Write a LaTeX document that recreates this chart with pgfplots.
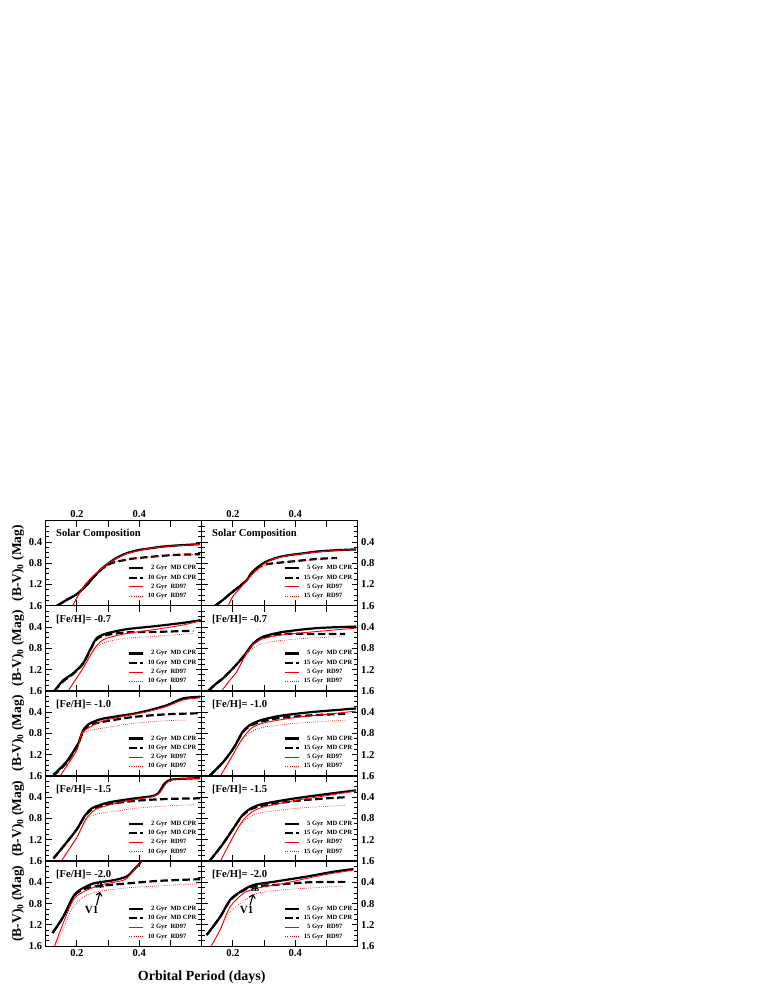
\documentclass[border=0pt]{standalone}
\usepackage{fontspec}
\setmainfont{Liberation Serif}
\usepackage{pgfplots}
\pgfplotsset{compat=1.18}
\usetikzlibrary{arrows.meta}

% line styles of the four model curves
\tikzset{
  bs/.style={black, line width=2.2pt, smooth, tension=0.45},
  bd/.style={black, line width=2.2pt, dash pattern=on 7.5pt off 3.5pt, smooth, tension=0.45},
  rs/.style={red, line width=0.9pt, smooth, tension=0.45},
  rd/.style={red, line width=0.7pt, dash pattern=on 0.7pt off 1.4pt, smooth, tension=0.45},
}

\pgfplotsset{
  panel/.style={
    scale only axis, width=156pt, height=85.1pt,
    xmin=0.1, xmax=0.6, ymin=0, ymax=1.6, y dir=reverse,
    axis line style={line width=1.3pt},
    xtick pos=both, ytick pos=both, tick align=inside,
    xtick={0.2,0.3,0.4,0.5}, xticklabels={},
    ytick={0.4,0.8,1.2,1.6}, yticklabels={0.4,0.8,1.2,1.6},
    minor ytick={0.1,0.2,0.3,0.5,0.6,0.7,0.9,1.0,1.1,1.3,1.4,1.5},
    major tick length=6pt, minor tick length=3.5pt,
    every tick/.style={black, line width=0.9pt},
    ticklabel style={font=\fontsize{10.6}{10.6}\selectfont\bfseries},
    /pgf/number format/assume math mode=true,
    legend style={draw=none, fill=none, at={(0.528,0.475)}, anchor=north west,
      inner sep=0pt, font=\fontsize{6.5}{6.5}\selectfont\bfseries,
      row sep=3.8pt, column sep=3.5pt,
      nodes={inner sep=0pt, text height=4.3pt, text depth=1.2pt}},
    legend cell align=left,
    legend image code/.code={\draw[#1] (0pt,0pt) -- (14pt,0pt);},
  },
  lpanel/.style={panel, yticklabel pos=left,
    ylabel={(B-V)\textsubscript{0} (Mag)},
    ylabel style={at={(axis description cs:-0.178,0.5)}, anchor=center,
      font=\fontsize{13.5}{13.5}\selectfont\bfseries},
    legend entries={{\phantom{1}2 Gyr\ \ MD CPR},{10 Gyr\ \ MD CPR},{\phantom{1}2 Gyr\ \ RD97},{10 Gyr\ \ RD97}},
  },
  rpanel/.style={panel, yticklabel pos=right,
    legend entries={{\phantom{1}5 Gyr\ \ MD CPR},{15 Gyr\ \ MD CPR},{\phantom{1}5 Gyr\ \ RD97},{15 Gyr\ \ RD97}},
  },
  toprow/.style={xticklabel pos=right, xticklabels={0.2,,0.4,}},
  botrow/.style={xticklabel pos=left, xticklabels={0.2,,0.4,}},
}
\newcommand{\ptitle}[1]{\node[anchor=west, inner sep=0pt, font=\fontsize{10.6}{10.6}\selectfont\bfseries] at (axis cs:0.133,0.25) {#1};}

\begin{document}
\begin{tikzpicture}
\path[use as bounding box] (0,0) rectangle (775pt,1003pt);

% ---------------- row 1: solar
\begin{axis}[lpanel, toprow, at={(45.7pt,482.3pt)}, anchor=north west]
\addplot[bs] coordinates {(0.136,1.60) (0.17,1.48) (0.20,1.38) (0.23,1.22) (0.255,1.05) (0.28,0.90) (0.306,0.78) (0.33,0.69) (0.36,0.61) (0.40,0.55) (0.434,0.52) (0.47,0.49) (0.51,0.47) (0.55,0.455) (0.595,0.44)};
\addplot[bd] coordinates {(0.136,1.60) (0.17,1.48) (0.20,1.38) (0.23,1.22) (0.255,1.05) (0.28,0.91) (0.306,0.81) (0.33,0.77) (0.37,0.72) (0.434,0.68) (0.51,0.645) (0.595,0.63)};
\addplot[rs] coordinates {(0.186,1.60) (0.205,1.40) (0.226,1.20) (0.25,1.05) (0.275,0.92) (0.30,0.80) (0.33,0.70) (0.36,0.62) (0.40,0.56) (0.434,0.52) (0.51,0.475) (0.595,0.445)};
\addplot[rd] coordinates {(0.186,1.60) (0.205,1.40) (0.226,1.20) (0.25,1.05) (0.275,0.93) (0.30,0.82) (0.33,0.77) (0.37,0.72) (0.434,0.68) (0.51,0.65) (0.58,0.635)};
\ptitle{Solar Composition}
\end{axis}
\begin{axis}[rpanel, toprow, at={(201.7pt,482.3pt)}, anchor=north west]
\addplot[bs] coordinates {(0.143,1.60) (0.17,1.48) (0.19,1.38) (0.22,1.24) (0.244,1.12) (0.26,0.98) (0.276,0.89) (0.30,0.79) (0.319,0.74) (0.35,0.68) (0.383,0.645) (0.43,0.61) (0.469,0.58) (0.53,0.555) (0.595,0.54)};
\addplot[bd] coordinates {(0.143,1.60) (0.17,1.48) (0.19,1.38) (0.22,1.24) (0.244,1.12) (0.26,0.99) (0.276,0.90) (0.30,0.83) (0.33,0.80) (0.383,0.77) (0.469,0.72) (0.533,0.70)};
\addplot[rs] coordinates {(0.185,1.60) (0.20,1.42) (0.223,1.27) (0.25,1.08) (0.276,0.93) (0.30,0.81) (0.33,0.72) (0.383,0.65) (0.469,0.59) (0.53,0.56) (0.595,0.545)};
\addplot[rd] coordinates {(0.185,1.60) (0.20,1.42) (0.223,1.27) (0.25,1.08) (0.276,0.94) (0.30,0.85) (0.33,0.81) (0.383,0.77) (0.469,0.73) (0.533,0.71)};
\ptitle{Solar Composition}
\end{axis}

% ---------------- row 2: [Fe/H] = -0.7
\begin{axis}[lpanel, at={(45.7pt,397.2pt)}, anchor=north west]
\addplot[bs] coordinates {(0.128,1.60) (0.156,1.40) (0.188,1.27) (0.22,1.08) (0.242,0.83) (0.263,0.61) (0.295,0.52) (0.36,0.44) (0.456,0.38) (0.541,0.32) (0.597,0.27)};
\addplot[bd] coordinates {(0.128,1.60) (0.156,1.42) (0.188,1.28) (0.22,1.09) (0.242,0.84) (0.263,0.63) (0.295,0.55) (0.36,0.50) (0.456,0.49) (0.573,0.47)};
\addplot[rs] coordinates {(0.172,1.60) (0.20,1.35) (0.22,1.17) (0.253,0.83) (0.275,0.68) (0.295,0.61) (0.36,0.52) (0.456,0.44) (0.541,0.36) (0.597,0.28)};
\addplot[rd] coordinates {(0.172,1.60) (0.20,1.35) (0.22,1.17) (0.253,0.86) (0.275,0.73) (0.30,0.67) (0.36,0.61) (0.456,0.57) (0.573,0.52)};
\ptitle{[Fe/H]= -0.7}
\end{axis}
\begin{axis}[rpanel, at={(201.7pt,397.2pt)}, anchor=north west]
\addplot[bs] coordinates {(0.121,1.60) (0.145,1.47) (0.169,1.36) (0.201,1.17) (0.233,0.96) (0.265,0.71) (0.297,0.58) (0.362,0.49) (0.469,0.42) (0.595,0.39)};
\addplot[bd] coordinates {(0.121,1.60) (0.145,1.47) (0.169,1.36) (0.201,1.17) (0.233,0.96) (0.265,0.72) (0.297,0.60) (0.362,0.53) (0.469,0.53) (0.56,0.53)};
\addplot[rs] coordinates {(0.164,1.60) (0.19,1.40) (0.212,1.24) (0.244,0.89) (0.276,0.67) (0.33,0.57) (0.437,0.50) (0.595,0.42)};
\addplot[rd] coordinates {(0.164,1.60) (0.19,1.40) (0.212,1.25) (0.244,0.92) (0.276,0.75) (0.33,0.67) (0.437,0.61) (0.554,0.58)};
\ptitle{[Fe/H]= -0.7}
\end{axis}

% ---------------- row 3: [Fe/H] = -1.0
\begin{axis}[lpanel, at={(45.7pt,312.1pt)}, anchor=north west]
\addplot[bs] coordinates {(0.124,1.58) (0.167,1.33) (0.204,0.99) (0.22,0.74) (0.242,0.61) (0.285,0.52) (0.381,0.43) (0.434,0.36) (0.488,0.27) (0.541,0.14) (0.595,0.11)};
\addplot[bd] coordinates {(0.124,1.60) (0.167,1.35) (0.204,1.00) (0.22,0.76) (0.242,0.64) (0.285,0.58) (0.381,0.49) (0.488,0.44) (0.595,0.42)};
\addplot[rs] coordinates {(0.146,1.60) (0.20,1.11) (0.215,0.80) (0.242,0.68) (0.285,0.56) (0.381,0.44) (0.434,0.38) (0.488,0.29) (0.541,0.17) (0.595,0.13)};
\addplot[rd] coordinates {(0.146,1.60) (0.20,1.11) (0.215,0.82) (0.242,0.74) (0.285,0.70) (0.381,0.61) (0.488,0.56) (0.55,0.55)};
\ptitle{[Fe/H]= -1.0}
\end{axis}
\begin{axis}[rpanel, at={(201.7pt,312.1pt)}, anchor=north west]
\addplot[bs] coordinates {(0.125,1.60) (0.17,1.33) (0.205,1.05) (0.23,0.78) (0.255,0.64) (0.29,0.55) (0.35,0.47) (0.45,0.40) (0.595,0.33)};
\addplot[bd] coordinates {(0.125,1.60) (0.17,1.33) (0.205,1.05) (0.23,0.79) (0.255,0.66) (0.29,0.58) (0.35,0.51) (0.45,0.46) (0.56,0.43)};
\addplot[rs] coordinates {(0.16,1.60) (0.20,1.20) (0.23,0.90) (0.26,0.70) (0.30,0.60) (0.40,0.50) (0.50,0.44) (0.595,0.38)};
\addplot[rd] coordinates {(0.16,1.60) (0.20,1.20) (0.23,0.92) (0.26,0.76) (0.30,0.68) (0.40,0.61) (0.50,0.57) (0.56,0.55)};
\ptitle{[Fe/H]= -1.0}
\end{axis}

% ---------------- row 4: [Fe/H] = -1.5
\begin{axis}[lpanel, at={(45.7pt,227.0pt)}, anchor=north west]
\addplot[bs] coordinates {(0.125,1.55) (0.16,1.30) (0.20,1.00) (0.225,0.75) (0.25,0.60) (0.30,0.50) (0.35,0.45) (0.40,0.41) (0.44,0.38) (0.46,0.33) (0.48,0.15) (0.50,0.07) (0.55,0.05) (0.595,0.04)};
\addplot[bd] coordinates {(0.125,1.55) (0.16,1.30) (0.20,1.00) (0.225,0.76) (0.25,0.62) (0.30,0.53) (0.40,0.46) (0.50,0.43) (0.595,0.42)};
\addplot[rs] coordinates {(0.15,1.60) (0.20,1.15) (0.23,0.80) (0.26,0.63) (0.30,0.55) (0.35,0.48) (0.40,0.43) (0.44,0.39) (0.465,0.32) (0.485,0.15) (0.505,0.07) (0.55,0.05) (0.595,0.04)};
\addplot[rd] coordinates {(0.15,1.60) (0.20,1.15) (0.23,0.82) (0.26,0.72) (0.30,0.68) (0.40,0.60) (0.50,0.56) (0.58,0.54)};
\ptitle{[Fe/H]= -1.5}
\end{axis}
\begin{axis}[rpanel, at={(201.7pt,227.0pt)}, anchor=north west]
\addplot[bs] coordinates {(0.125,1.60) (0.165,1.30) (0.20,1.00) (0.23,0.74) (0.26,0.60) (0.30,0.52) (0.40,0.42) (0.50,0.34) (0.595,0.27)};
\addplot[bd] coordinates {(0.125,1.60) (0.165,1.30) (0.20,1.00) (0.23,0.75) (0.26,0.62) (0.30,0.55) (0.40,0.47) (0.50,0.42) (0.56,0.40)};
\addplot[rs] coordinates {(0.16,1.60) (0.20,1.15) (0.23,0.85) (0.26,0.68) (0.30,0.58) (0.40,0.46) (0.50,0.37) (0.595,0.28)};
\addplot[rd] coordinates {(0.16,1.60) (0.20,1.15) (0.23,0.88) (0.26,0.75) (0.30,0.68) (0.40,0.61) (0.50,0.57) (0.56,0.55)};
\ptitle{[Fe/H]= -1.5}
\end{axis}

% ---------------- row 5: [Fe/H] = -2.0
\begin{axis}[lpanel, botrow, at={(45.7pt,141.9pt)}, anchor=north west,
  xlabel={Orbital Period (days)},
  xlabel style={at={(axis description cs:1,-0.362)}, anchor=center,
    font=\fontsize{14}{14}\selectfont\bfseries}]
\addplot[bs] coordinates {(0.122,1.35) (0.156,1.05) (0.188,0.67) (0.21,0.54) (0.253,0.42) (0.317,0.36) (0.36,0.29) (0.381,0.17) (0.402,0.04) (0.41,-0.05)};
\addplot[bd] coordinates {(0.122,1.35) (0.156,1.05) (0.188,0.68) (0.21,0.56) (0.253,0.48) (0.36,0.42) (0.466,0.37) (0.595,0.34)};
\addplot[rs] coordinates {(0.128,1.60) (0.156,1.17) (0.188,0.73) (0.22,0.58) (0.274,0.45) (0.349,0.36) (0.37,0.26) (0.402,0.04) (0.41,-0.05)};
\addplot[rd] coordinates {(0.128,1.60) (0.146,1.42) (0.188,0.86) (0.242,0.61) (0.349,0.51) (0.509,0.45) (0.595,0.43)};
\addplot[forget plot, only marks, mark=triangle, mark size=4pt, line width=0.8pt, black] coordinates {(0.274,0.45)};
\addplot[forget plot, only marks, mark=+, mark size=3pt, line width=0.6pt, black] coordinates {(0.274,0.45)};
\draw[line width=1.1pt, -{Straight Barb[length=3pt]}] (axis cs:0.263,0.83) -- (axis cs:0.274,0.58);
\node[font=\fontsize{11}{11}\selectfont\bfseries] at (axis cs:0.247,0.92) {V1};
\ptitle{[Fe/H]= -2.0}
\end{axis}
\begin{axis}[rpanel, botrow, at={(201.7pt,141.9pt)}, anchor=north west]
\addplot[bs] coordinates {(0.116,1.39) (0.159,1.05) (0.191,0.73) (0.223,0.58) (0.265,0.45) (0.33,0.39) (0.437,0.29) (0.522,0.20) (0.586,0.15)};
\addplot[bd] coordinates {(0.116,1.39) (0.159,1.05) (0.191,0.74) (0.223,0.59) (0.265,0.48) (0.33,0.45) (0.437,0.40) (0.565,0.39)};
\addplot[rs] coordinates {(0.13,1.60) (0.159,1.29) (0.191,0.86) (0.233,0.61) (0.276,0.51) (0.362,0.42) (0.49,0.26) (0.586,0.17)};
\addplot[rd] coordinates {(0.13,1.60) (0.159,1.30) (0.191,0.95) (0.276,0.61) (0.383,0.53) (0.554,0.47)};
\addplot[forget plot, only marks, mark=triangle, mark size=4pt, line width=0.8pt, black] coordinates {(0.271,0.51)};
\addplot[forget plot, only marks, mark=+, mark size=3pt, line width=0.6pt, black] coordinates {(0.271,0.51)};
\draw[line width=1.1pt, -{Straight Barb[length=3pt]}] (axis cs:0.255,0.83) -- (axis cs:0.265,0.62);
\node[font=\fontsize{11}{11}\selectfont\bfseries] at (axis cs:0.244,0.92) {V1};
\ptitle{[Fe/H]= -2.0}
\end{axis}
\end{tikzpicture}
\end{document}
